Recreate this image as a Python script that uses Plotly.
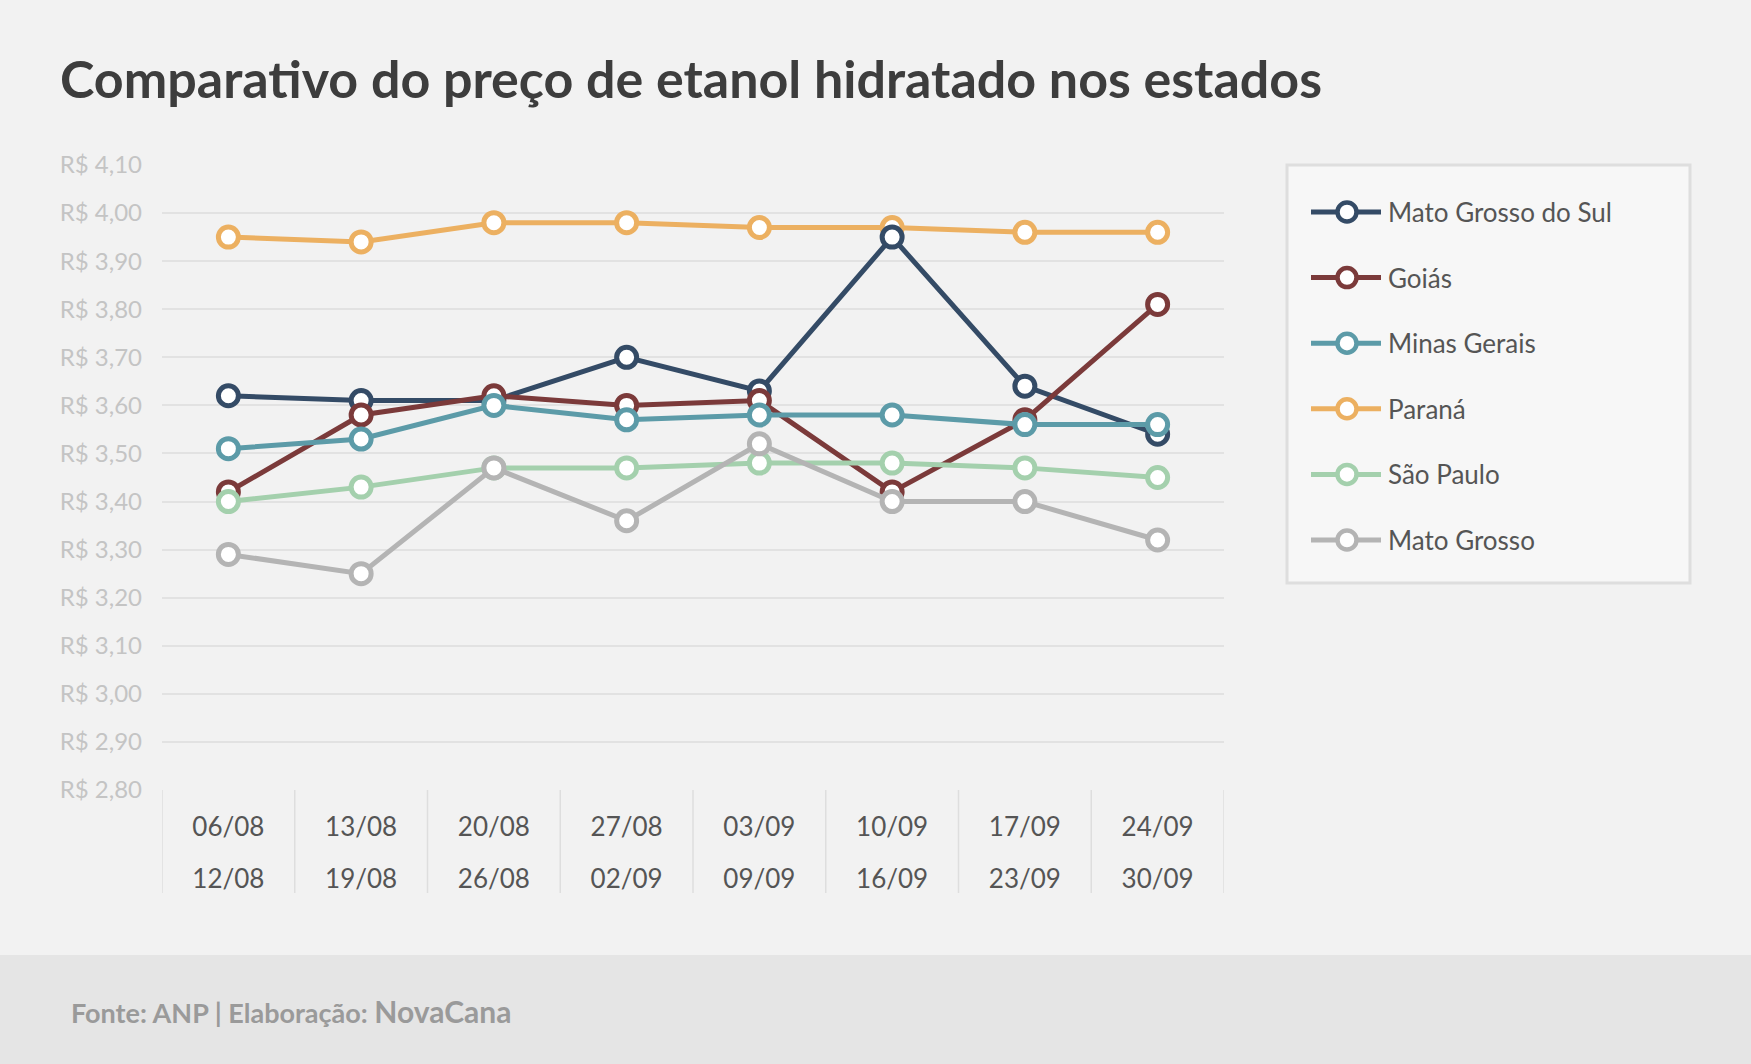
import plotly.graph_objects as go

# ---------------- data ----------------
week_start = ["06/08", "13/08", "20/08", "27/08", "03/09", "10/09", "17/09", "24/09"]
week_end = ["12/08", "19/08", "26/08", "02/09", "09/09", "16/09", "23/09", "30/09"]

states = ["Mato Grosso do Sul", "Goiás", "Minas Gerais", "Paraná", "São Paulo", "Mato Grosso"]

mato_grosso_do_sul = [3.62, 3.61, 3.61, 3.70, 3.63, 3.95, 3.64, 3.54]
goias = [3.42, 3.58, 3.62, 3.60, 3.61, 3.42, 3.57, 3.81]
minas_gerais = [3.51, 3.53, 3.60, 3.57, 3.58, 3.58, 3.56, 3.56]
parana = [3.95, 3.94, 3.98, 3.98, 3.97, 3.97, 3.96, 3.96]
sao_paulo = [3.40, 3.43, 3.47, 3.47, 3.48, 3.48, 3.47, 3.45]
mato_grosso = [3.29, 3.25, 3.47, 3.36, 3.52, 3.40, 3.40, 3.32]

series = {
    "Mato Grosso do Sul": mato_grosso_do_sul,
    "Goiás": goias,
    "Minas Gerais": minas_gerais,
    "Paraná": parana,
    "São Paulo": sao_paulo,
    "Mato Grosso": mato_grosso,
}
colors = {
    "Mato Grosso do Sul": "#344b66",
    "Goiás": "#7b3a3a",
    "Minas Gerais": "#5c9ba8",
    "Paraná": "#ecb061",
    "São Paulo": "#a4d0ad",
    "Mato Grosso": "#b4b4b4",
}
draw_order = ["Paraná", "Mato Grosso do Sul", "Goiás", "Minas Gerais", "São Paulo", "Mato Grosso"]

y_min, y_max, y_step = 2.8, 4.1, 0.1

# ---------------- geometry ----------------
W, H = 1751, 1064
ML, MR, MT, MB = 162, 527, 165, 274
PW = W - ML - MR
PH = H - MT - MB


def px(x):
    return (x - ML) / PW


def py(y):
    return (H - MB - y) / PH


FONT = "Lato"

fig = go.Figure()

for name in draw_order:
    c = colors[name]
    fig.add_trace(go.Scatter(
        x=week_start, y=series[name], name=name, mode="lines+markers",
        line=dict(color=c, width=5),
        marker=dict(symbol="circle", size=20, color="white", line=dict(color=c, width=5)),
        showlegend=False, hoverinfo="skip",
    ))

# invisible trace for second row of x labels axis
fig.add_trace(go.Scatter(x=[None], y=[None], xaxis="x2", showlegend=False, hoverinfo="skip"))

n = len(week_start)
shapes = []
annotations = []

# category separators in the label area
for i in range(n + 1):
    shapes.append(dict(type="line", xref="x", yref="paper", x0=i - 0.5, x1=i - 0.5,
                       y0=0, y1=py(893), line=dict(color="#dedede", width=1.5), layer="below"))

# footer band
shapes.append(dict(type="rect", xref="paper", yref="paper", x0=px(0), x1=px(W), y0=py(955), y1=py(H),
                   fillcolor="#e5e5e5", line=dict(width=0), layer="below"))

# custom legend
shapes.append(dict(type="rect", xref="paper", yref="paper", x0=px(1287), x1=px(1690), y0=py(165), y1=py(583),
                   fillcolor="#f7f7f7", line=dict(color="#dedede", width=3)))
leg_y0, leg_dy = 212, 65.6
for k, name in enumerate(states):
    c = colors[name]
    yc = leg_y0 + k * leg_dy
    shapes.append(dict(type="line", xref="paper", yref="paper", x0=px(1311), x1=px(1381),
                       y0=py(yc), y1=py(yc), line=dict(color=c, width=5)))
    shapes.append(dict(type="circle", xref="paper", yref="paper", xsizemode="pixel", ysizemode="pixel",
                       xanchor=px(1347), yanchor=py(yc), x0=-9.5, x1=9.5, y0=-9.5, y1=9.5,
                       fillcolor="white", line=dict(color=c, width=4.5)))
    annotations.append(dict(xref="paper", yref="paper", x=px(1386), y=py(yc), xanchor="left", yanchor="middle",
                            text=name, showarrow=False, font=dict(family=FONT, size=26, color="#555555")))

# footer text
annotations.append(dict(xref="paper", yref="paper", x=px(69), y=py(1011), xanchor="left", yanchor="middle",
                        text="<b>Fonte: ANP | Elaboração: <span style='font-size:30px'>NovaCana</span></b>",
                        showarrow=False, font=dict(family=FONT, size=27, color="#9a9a9a")))

fig.update_layout(
    width=W, height=H, autosize=False,
    margin=dict(l=ML, r=MR, t=MT, b=MB, pad=0),
    paper_bgcolor="#f2f2f2", plot_bgcolor="#f2f2f2",
    separators=",.",
    title=dict(text="<b>Comparativo do preço de etanol hidratado nos estados</b>",
               xref="container", yref="container", x=60 / W, xanchor="left",
               y=1 - 80 / H, yanchor="middle",
               font=dict(family=FONT, size=52, color="#3d3d3d")),
    xaxis=dict(type="category", categoryorder="array", categoryarray=week_start,
               range=[-0.5, n - 0.5], showgrid=False, zeroline=False, showline=False, ticks="",
               tickfont=dict(family=FONT, size=26, color="#555555"), ticklabelstandoff=19),
    xaxis2=dict(overlaying="x", anchor="y", side="bottom", range=[-0.5, n - 0.5],
                tickmode="array", tickvals=list(range(n)), ticktext=week_end,
                showgrid=False, zeroline=False, showline=False, ticks="",
                tickfont=dict(family=FONT, size=26, color="#555555"), ticklabelstandoff=71),
    yaxis=dict(range=[y_min, y_max], dtick=y_step, tick0=y_min, tickprefix="R$ ", tickformat=".2f",
               showgrid=True, gridcolor="#e2e2e2", gridwidth=1.5, zeroline=False, showline=False, ticks="",
               tickfont=dict(family=FONT, size=24, color="#c4c4c4"), ticklabelstandoff=19),
    shapes=shapes, annotations=annotations,
    showlegend=False,
)

fig.write_html("out.html")
